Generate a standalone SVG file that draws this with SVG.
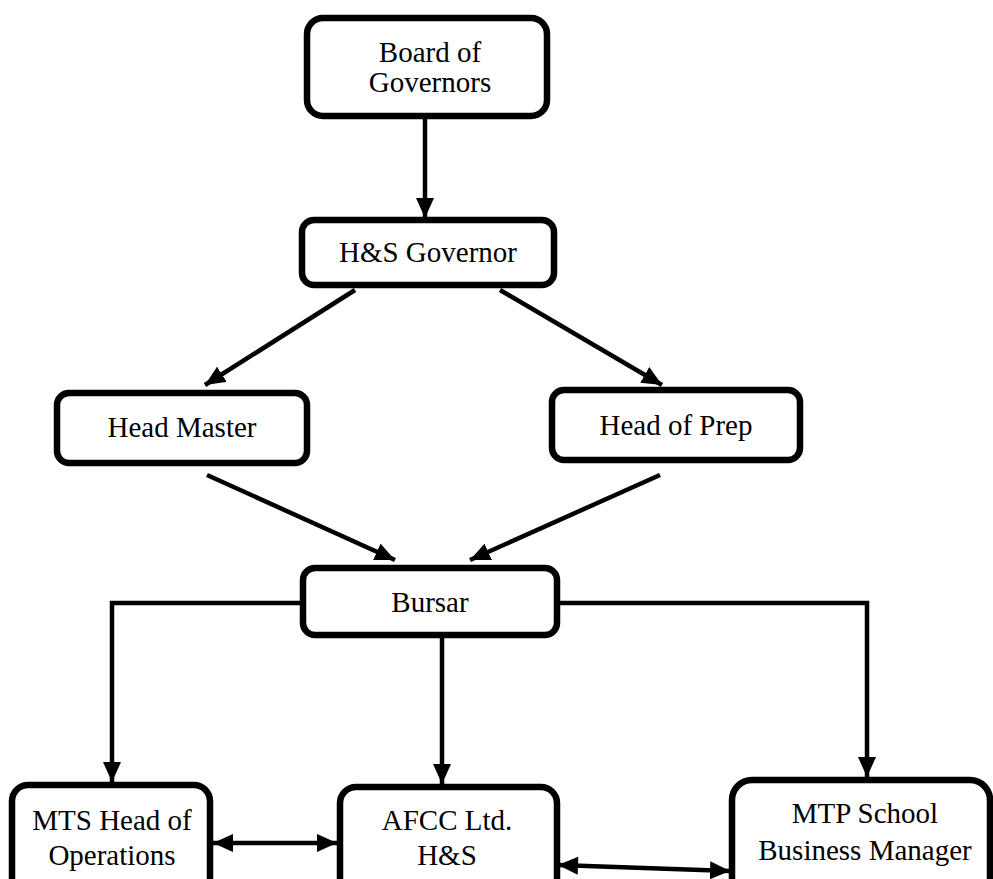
<svg xmlns="http://www.w3.org/2000/svg" width="993" height="879" viewBox="0 0 993 879">
<style>
.box{fill:#fff;stroke:#000;stroke-width:6.5}
.t{font-family:"Liberation Serif","Times New Roman",serif;font-size:29px;fill:#000;text-anchor:middle}
.c{stroke:#000;stroke-width:4.5;fill:none}
.a{marker-end:url(#ah)}
.d{marker-start:url(#as);marker-end:url(#ah)}
</style>
<defs>
<marker id="ah" markerUnits="userSpaceOnUse" markerWidth="22" markerHeight="18" refX="20" refY="9" orient="auto">
<path d="M0,0 L20,9 L0,18 Z" fill="#000"/>
</marker>
<marker id="as" markerUnits="userSpaceOnUse" markerWidth="22" markerHeight="18" refX="0" refY="9" orient="auto">
<path d="M20,0 L0,9 L20,18 Z" fill="#000"/>
</marker>
</defs>
<rect width="993" height="879" fill="#fff"/>
<g id="connectors">
<line class="c a" x1="425" y1="118" x2="425" y2="218"/>
<line class="c a" x1="355" y1="290" x2="205" y2="385"/>
<line class="c a" x1="500" y1="290" x2="662" y2="385"/>
<line class="c a" x1="207" y1="475" x2="395" y2="560"/>
<line class="c a" x1="660" y1="475" x2="470" y2="560"/>
<polyline class="c a" points="303,603 112,603 112,782"/>
<polyline class="c a" points="557,603 867,603 867,777"/>
<line class="c a" x1="442" y1="637" x2="442" y2="784"/>
<line class="c d" x1="213" y1="843" x2="337" y2="843"/>
<line class="c d" x1="558" y1="865" x2="730" y2="871"/>
</g>
<g id="board">
<rect class="box" x="307" y="18" width="240" height="98" rx="16"/>
<text class="t" x="430" y="62">Board of</text>
<text class="t" x="430" y="92">Governors</text>
</g>
<g id="hs-governor">
<rect class="box" x="302" y="220" width="252" height="65" rx="12"/>
<text class="t" x="428" y="262">H&amp;S Governor</text>
</g>
<g id="head-master">
<rect class="box" x="57" y="393" width="250" height="70" rx="12"/>
<text class="t" x="182" y="437">Head Master</text>
</g>
<g id="head-of-prep">
<rect class="box" x="552" y="390" width="248" height="70" rx="12"/>
<text class="t" x="676" y="435">Head of Prep</text>
</g>
<g id="bursar">
<rect class="box" x="303" y="568" width="254" height="67" rx="12"/>
<text class="t" x="430" y="612">Bursar</text>
</g>
<g id="mts">
<rect class="box" x="12" y="785" width="198" height="120" rx="16"/>
<text class="t" x="112" y="830">MTS Head of</text>
<text class="t" x="112" y="865">Operations</text>
</g>
<g id="afcc">
<rect class="box" x="340" y="787" width="217" height="120" rx="16"/>
<text class="t" x="447" y="830">AFCC Ltd.</text>
<text class="t" x="447" y="865">H&amp;S</text>
</g>
<g id="mtp">
<rect class="box" x="732" y="780" width="258" height="120" rx="20"/>
<text class="t" x="865" y="823">MTP School</text>
<text class="t" x="865" y="860">Business Manager</text>
</g>
</svg>
